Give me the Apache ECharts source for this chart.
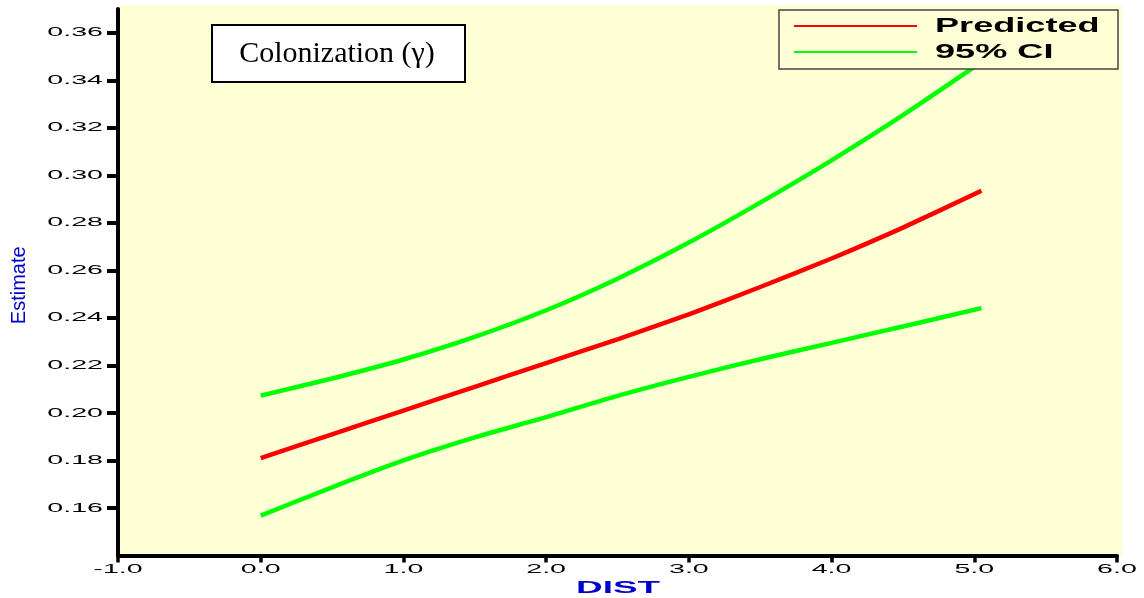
<!DOCTYPE html>
<html>
<head>
<meta charset="utf-8">
<script src="https://cdn.jsdelivr.net/npm/echarts@6/dist/echarts.min.js"></script>
<style>
  html, body { margin: 0; padding: 0; background: #ffffff; }
  #chart { width: 1144px; height: 598px; }
</style>
</head>
<body>
<div id="chart"></div>
<script>
// Colonization estimate against distance, with 95% confidence band
const distValues = [0, 0.5, 1, 1.5, 2, 2.5, 3, 3.5, 4, 4.5, 5.05];
const predicted  = [0.181, 0.191, 0.201, 0.211, 0.221, 0.231, 0.2415, 0.253, 0.265, 0.278, 0.2935];
const ciUpper    = [0.2073, 0.2145, 0.2225, 0.2320, 0.2432, 0.2565, 0.2717, 0.2885, 0.3063, 0.3253, 0.3476];
const ciLower    = [0.1568, 0.1687, 0.1800, 0.1897, 0.1982, 0.2072, 0.2152, 0.2226, 0.2295, 0.2364, 0.2441];

const xTickValues = [-1, 0, 1, 2, 3, 4, 5, 6];
const xTickLabels = ['-1.0', '0.0', '1.0', '2.0', '3.0', '4.0', '5.0', '6.0'];
const yTickValues = [0.16, 0.18, 0.20, 0.22, 0.24, 0.26, 0.28, 0.30, 0.32, 0.34, 0.36];
const yTickLabels = ['0.16', '0.18', '0.20', '0.22', '0.24', '0.26', '0.28', '0.30', '0.32', '0.34', '0.36'];

const seriesNames = ['Predicted', '95% CI'];
const panelTitle = 'Colonization (\u03b3)';
const xAxisTitle = 'DIST';
const yAxisTitle = 'Estimate';

const RED = '#ff0000';
const GREEN = '#00ff00';
const PANEL = '#ffffd5';
const AXIS_BLUE = '#0000c8';

const chart = echarts.init(document.getElementById('chart'));
const toPairs = ys => distValues.map((x, i) => [x, ys[i]]);

const lineSeries = (name, ys, color) => ({
  name: name,
  type: 'line',
  data: toPairs(ys),
  showSymbol: false,
  smooth: 0.2,
  lineStyle: { color: color, width: 4.5 },
  itemStyle: { color: color },
  z: 3
});

chart.setOption({
  animation: false,
  grid: { left: 118, right: 27, top: 9, bottom: 42.5 },
  xAxis: {
    type: 'value',
    min: -1, max: 6, interval: 1,
    axisLine: { show: true, onZero: false, lineStyle: { color: '#000', width: 4 } },
    axisTick: { show: true, inside: false, length: 7, lineStyle: { color: '#000', width: 3.5 } },
    axisLabel: { show: false },
    splitLine: { show: false }
  },
  yAxis: {
    type: 'value',
    min: 0.14, max: 0.37,
    axisLine: { show: true, onZero: false, lineStyle: { color: '#000', width: 4 } },
    axisTick: { show: true, inside: false, length: 11, customValues: yTickValues,
                lineStyle: { color: '#000', width: 4 } },
    axisLabel: { show: false },
    splitLine: { show: false }
  },
  series: [
    lineSeries(seriesNames[1], ciUpper, GREEN),
    lineSeries(seriesNames[1], ciLower, GREEN),
    lineSeries(seriesNames[0], predicted, RED)
  ]
});

// Tick labels, axis titles, panel title and key, placed from the axis scales
const px = v => chart.convertToPixel({ xAxisIndex: 0 }, v);
const py = v => chart.convertToPixel({ yAxisIndex: 0 }, v);

const x0 = px(-1), x1 = px(6);
const yBottom = py(0.14), yTop = py(0.37);

const stretchedText = (text, x, y, opts) => ({
  type: 'text',
  x: x, y: y,
  scaleX: opts.scaleX || 1,
  rotation: opts.rotation || 0,
  z: opts.z || 50,
  style: {
    text: text,
    x: 0, y: 0,
    fill: opts.fill || '#000',
    font: opts.font,
    align: opts.align || 'center',
    verticalAlign: 'middle',
    textAlign: opts.align || 'center',
    textVerticalAlign: 'middle'
  }
});

const tickFont = 'normal 13px "Liberation Sans", Arial, sans-serif';
const graphics = [];

// plot panel
graphics.push({
  type: 'rect', z: -5, silent: true,
  shape: { x: x0 + 2, y: yTop - 4, width: x1 - x0 + 3, height: yBottom - yTop + 4 },
  style: { fill: PANEL }
});

yTickValues.forEach((v, i) => {
  graphics.push(stretchedText(yTickLabels[i], x0 - 15, py(v), { font: tickFont, scaleX: 2.2, align: 'right' }));
});
xTickValues.forEach((v, i) => {
  graphics.push(stretchedText(xTickLabels[i], px(v), yBottom + 14, { font: tickFont, scaleX: 2.2 }));
});

graphics.push(stretchedText(xAxisTitle, (x0 + x1) / 2 + 0.5, yBottom + 33,
  { font: 'bold 16px "Liberation Sans", Arial, sans-serif', scaleX: 2.3, fill: AXIS_BLUE }));
graphics.push(stretchedText(yAxisTitle, 19, (yTop + yBottom) / 2 + 3,
  { font: 'normal 20px "Liberation Sans", Arial, sans-serif', rotation: Math.PI / 2, fill: AXIS_BLUE }));

// panel title box
graphics.push({
  type: 'rect', z: 60,
  shape: { x: 212, y: 25, width: 253, height: 57 },
  style: { fill: '#ffffff', stroke: '#000', lineWidth: 2 }
});
graphics.push(stretchedText(panelTitle, 337, 54,
  { font: 'normal 30px "Liberation Serif", "Times New Roman", serif', z: 61 }));

// key
graphics.push({
  type: 'rect', z: 60,
  shape: { x: 779, y: 10, width: 339, height: 59 },
  style: { fill: PANEL, stroke: '#444', lineWidth: 1.5 }
});
graphics.push({ type: 'line', z: 61, shape: { x1: 794, y1: 26, x2: 917, y2: 26 }, style: { stroke: RED, lineWidth: 2 } });
graphics.push({ type: 'line', z: 61, shape: { x1: 794, y1: 52, x2: 917, y2: 52 }, style: { stroke: GREEN, lineWidth: 2 } });
const keyFont = 'bold 21px "Liberation Sans", Arial, sans-serif';
graphics.push(stretchedText(seriesNames[0], 935, 26, { font: keyFont, scaleX: 1.72, align: 'left', z: 61 }));
graphics.push(stretchedText(seriesNames[1], 935, 52, { font: keyFont, scaleX: 1.72, align: 'left', z: 61 }));

chart.setOption({ graphic: graphics });
</script>
</body>
</html>
